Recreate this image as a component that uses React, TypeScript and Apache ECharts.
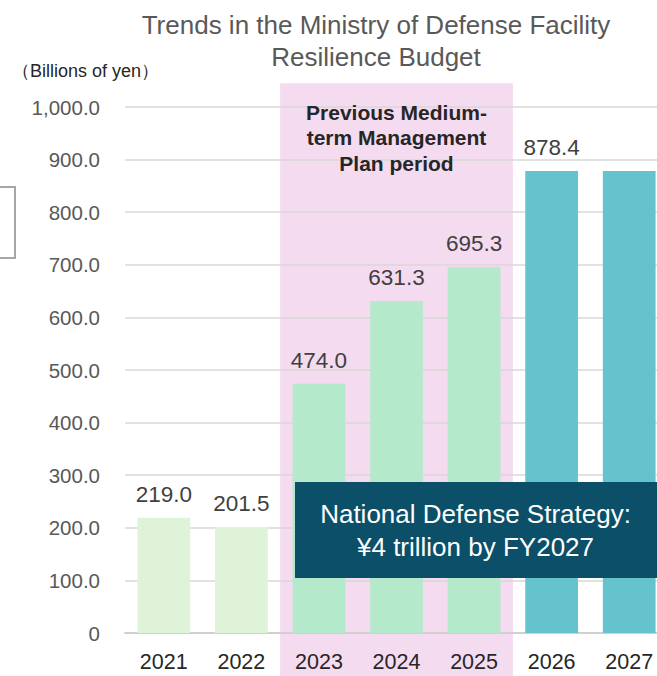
import React, { useEffect, useRef } from "react";
import * as echarts from "echarts";

const years = ["2021", "2022", "2023", "2024", "2025", "2026", "2027"];
const budget = [219.0, 201.5, 474.0, 631.3, 695.3, 878.4, 878.4];
const showLabel = [true, true, true, true, true, true, false];
const barColors = ["#dff3d8", "#dff3d8", "#b5e9cb", "#b5e9cb", "#b5e9cb", "#65c3cd", "#65c3cd"];
const periodStart = "2023";
const periodEnd = "2025";
const periodTop = 1045;
const titleText = "Trends in the Ministry of Defense Facility\nResilience Budget";
const unitText = "（Billions of yen）";
const periodText = "Previous Medium-\nterm Management\nPlan period";
const strategyText = "National Defense Strategy:\n¥4 trillion by FY2027";

const FONT = "'Liberation Sans', Arial, sans-serif";
const fmt = new Intl.NumberFormat("en-US", { minimumFractionDigits: 1, maximumFractionDigits: 1 });

export default function App() {
  const ref = useRef<HTMLDivElement>(null);
  useEffect(() => {
    if (!ref.current) return;
    document.body.style.margin = "0";
    document.body.style.overflow = "hidden";
    document.documentElement.style.overflow = "hidden";
    const chart = echarts.init(ref.current, undefined, { renderer: "svg" });
    chart.setOption({
      animation: false,
      textStyle: { fontFamily: FONT },
      title: {
        text: titleText,
        left: 371,
        top: 4,
        textAlign: "center",
        textStyle: { fontFamily: FONT, fontSize: 26, fontWeight: "normal", color: "#595959", lineHeight: 32 },
      },
      grid: { left: 125, right: 0, top: 107, bottom: 43 },
      xAxis: {
        type: "category",
        data: years,
        axisTick: { show: false },
        axisLine: { lineStyle: { color: "#d0d0d0", width: 2 } },
        axisLabel: { fontSize: 21.5, color: "#262626", margin: 18, fontFamily: FONT },
      },
      yAxis: {
        type: "value",
        min: 0,
        max: 1000,
        interval: 100,
        axisLine: { show: false },
        axisTick: { show: false },
        splitLine: { lineStyle: { color: "#d9d9d9", width: 1.5 } },
        axisLabel: {
          fontSize: 20.5,
          color: "#595959",
          margin: 25,
          fontFamily: FONT,
          formatter: (v: number) => (v === 0 ? "0" : fmt.format(v)),
        },
      },
      series: [
        {
          type: "bar",
          barWidth: "68%",
          data: budget.map((v, i) => ({
            value: v,
            itemStyle: { color: barColors[i] },
            label: { show: showLabel[i] },
          })),
          label: {
            show: true,
            position: "top",
            distance: 12,
            fontSize: 22.5,
            color: "#404040",
            fontFamily: FONT,
            formatter: (p: any) => fmt.format(p.value),
          },
        },
      ],
    });

    const cStart = chart.convertToPixel({ xAxisIndex: 0 }, periodStart) as number;
    const cNext = chart.convertToPixel({ xAxisIndex: 0 }, years[years.indexOf(periodStart) + 1]) as number;
    const cEnd = chart.convertToPixel({ xAxisIndex: 0 }, periodEnd) as number;
    const band = cNext - cStart;
    const x0 = cStart - band / 2;
    const x1 = cEnd + band / 2;
    const yTop = chart.convertToPixel({ yAxisIndex: 0 }, periodTop) as number;
    const H = 676;

    chart.setOption({
      graphic: [
        {
          type: "rect",
          z: -10,
          shape: { x: x0, y: yTop, width: x1 - x0, height: H - yTop },
          style: { fill: "#f4dbf0" },
          silent: true,
        },
        {
          type: "text",
          z: 50,
          x: (x0 + x1) / 2,
          y: 137.5,
          style: {
            text: periodText,
            align: "center",
            verticalAlign: "middle",
            fontFamily: FONT,
            fontSize: 21,
            fontWeight: "bold",
            lineHeight: 25.5,
            fill: "#262626",
          },
        },
        {
          type: "text",
          z: 50,
          x: 12,
          y: 71,
          style: {
            text: unitText,
            align: "left",
            verticalAlign: "middle",
            fontFamily: FONT,
            fontSize: 18,
            fill: "#262626",
          },
        },
        {
          type: "rect",
          z: 50,
          shape: { x: -10, y: 187, width: 25, height: 71 },
          style: { fill: "none", stroke: "#a6a6a6", lineWidth: 2 },
        },
        {
          type: "rect",
          z: 60,
          shape: { x: 295, y: 482, width: 362, height: 96 },
          style: { fill: "#0b5068" },
        },
        {
          type: "text",
          z: 61,
          x: 475.5,
          y: 530,
          style: {
            text: strategyText,
            align: "center",
            verticalAlign: "middle",
            fontFamily: FONT,
            fontSize: 26,
            lineHeight: 33,
            fill: "#ffffff",
          },
        },
      ],
    });

    return () => chart.dispose();
  }, []);
  return <div ref={ref} style={{ width: 668, height: 676, position: "absolute", left: 0, top: 0 }} />;
}
